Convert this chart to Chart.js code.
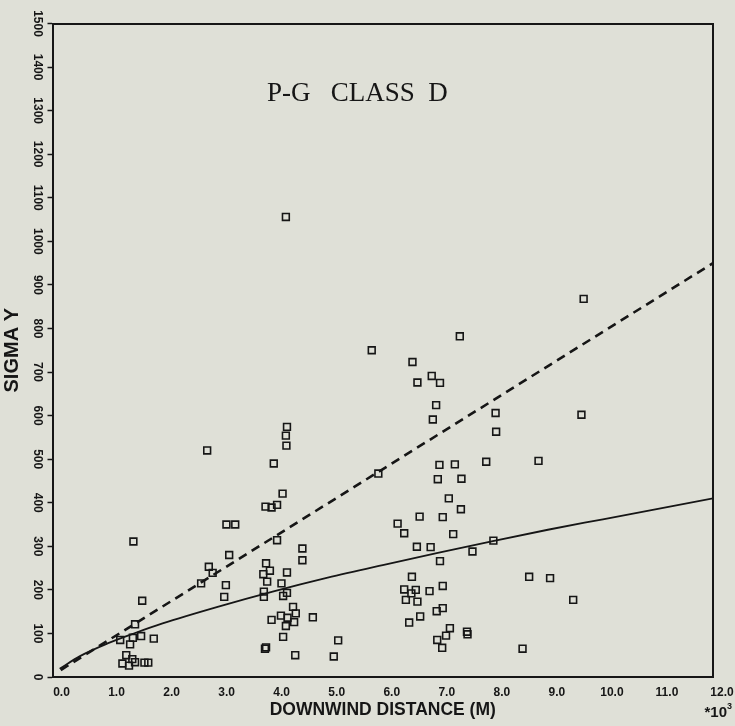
<!DOCTYPE html>
<html><head><meta charset="utf-8">
<script src="https://cdn.jsdelivr.net/npm/chart.js@4/dist/chart.umd.min.js"></script>
<style>
html,body{margin:0;padding:0;background:#dfe0d7;}
#wrap{width:735px;height:726px;position:relative;}
canvas{display:block;}
</style></head><body>
<div id="wrap"><canvas id="c" width="735" height="726"></canvas></div>
<script>
const chartTitle = 'P-G   CLASS  D';
const xAxisTitle = 'DOWNWIND DISTANCE (M)';
const yAxisTitle = 'SIGMA Y';
const xScaleNote = '*10';
const xScaleExp = '3';
const xRange = [0, 12];
const yRange = [0, 1500];

// observed sigma-y points (x in 10^3 m)
const obsX = [4.26,4.24,4.25,2.81,4.02,4.18,3.87,3.98,4.08,3.16,3.32,1.47,4.08,4.54,4.54,3.21,2.84,2.91,2.70,3.15,3.12,3.88,3.83,3.95,4.26,3.90,4.16,3.84,3.84,4.26,4.19,1.63,4.37,4.42,4.15,4.27,3.98,4.39,4.24,4.73,1.50,4.19,5.19,3.86,3.88,4.41,5.11,1.23,1.46,1.61,1.84,1.41,1.34,1.45,1.50,1.27,1.39,1.67,1.74,4.24,
  9.65,7.40,5.80,6.54,6.63,6.89,7.04,6.97,6.91,8.05,9.61,8.06,5.92,7.03,7.31,7.88,8.83,7.00,7.43,7.20,7.42,6.67,7.09,6.27,6.39,7.28,6.62,6.87,8.01,7.63,7.04,6.53,8.66,9.04,6.39,6.60,6.85,7.09,6.42,6.63,6.52,9.46,7.09,6.98,6.68,6.48,7.22,7.53,7.54,7.15,6.99,7.08,8.54];
const obsY = [574,554,531,520,490,421,391,389,395,350,350,311,314,295,268,280,253,239,215,211,184,261,236,244,240,219,215,196,184,193,186,175,161,146,141,136,131,126,117,137,121,92,84,65,68,50,47,85,90,94,88,75,50,41,34,31,26,33,33,1056,
  868,782,750,723,676,691,675,624,591,606,602,563,467,487,488,494,496,454,455,410,385,368,367,352,330,328,299,298,313,288,266,230,230,227,201,200,197,209,177,173,192,177,158,151,139,125,112,104,98,95,85,67,65];

// solid curve
const solidX = [0.13,0.5,1,1.5,2,3,4,5,6,7,8,9,10,11,12];
const solidY = [19,48,77,101,123,161,196,228,257,285,312,338,362,386,410];
// dashed line
const dashedX = [0.15, 12.0];
const dashedY = [16, 950];

const ink = '#161616';
const toPts = (xs, ys) => xs.map((x, i) => ({x, y: ys[i]}));

const annot = {
  id: 'annot',
  afterDraw(chart) {
    const ctx = chart.ctx, a = chart.chartArea;
    ctx.save();
    ctx.fillStyle = ink;
    ctx.font = '27px "Liberation Serif", serif';
    ctx.textAlign = 'left';
    ctx.textBaseline = 'alphabetic';
    ctx.fillText(chartTitle, a.left + 214.5, 101);
    ctx.font = 'bold 15px "Liberation Sans", Arial, sans-serif';
    ctx.textAlign = 'right';
    ctx.fillText(xScaleNote, a.right + 14, 717);
    ctx.font = 'bold 9px "Liberation Sans", Arial, sans-serif';
    ctx.textAlign = 'left';
    ctx.fillText(xScaleExp, a.right + 14, 709);
    ctx.restore();
  }
};

new Chart(document.getElementById('c'), {
  type: 'scatter',
  data: {
    datasets: [
      {
        data: toPts(obsX, obsY),
        pointStyle: 'rect',
        pointRadius: 4.8,
        pointBorderWidth: 1.6,
        pointBorderColor: ink,
        pointBackgroundColor: 'rgba(0,0,0,0)',
        showLine: false
      },
      {
        data: toPts(solidX, solidY),
        showLine: true,
        borderColor: ink,
        borderWidth: 1.8,
        pointRadius: 0,
        cubicInterpolationMode: 'monotone'
      },
      {
        data: toPts(dashedX, dashedY),
        showLine: true,
        borderColor: ink,
        borderWidth: 2.6,
        borderDash: [9, 6],
        pointRadius: 0
      }
    ]
  },
  options: {
    responsive: false,
    animation: false,
    devicePixelRatio: 1,
    layout: {padding: {top: 23.5, right: 22, left: 0, bottom: 0}},
    plugins: {legend: {display: false}, tooltip: {enabled: false}},
    scales: {
      x: {
        type: 'linear', position: 'bottom', min: xRange[0], max: xRange[1],
        afterFit(s) { s.height = 49; },
        ticks: {stepSize: 1, padding: 8, labelOffset: 9, color: ink,
          font: {family: '"Liberation Sans", Arial, sans-serif', weight: 'bold', size: 12},
          callback: v => Number(v).toFixed(1)},
        grid: {drawOnChartArea: false, drawTicks: false},
        border: {display: true, color: ink, width: 2},
        title: {display: true, text: xAxisTitle, color: ink, padding: {top: 0, bottom: 5},
          font: {family: '"Liberation Sans", Arial, sans-serif', weight: 'bold', size: 17.5}}
      },
      y: {
        type: 'linear', position: 'left', min: yRange[0], max: yRange[1],
        afterFit(s) { s.width = 52.5; },
        ticks: {stepSize: 100, padding: -3, minRotation: -90, maxRotation: -90, crossAlign: 'center', color: ink,
          font: {family: '"Liberation Sans", Arial, sans-serif', weight: 'bold', size: 12},
          callback: v => String(v)},
        grid: {drawOnChartArea: false, drawTicks: true, tickLength: 5, tickColor: ink, tickWidth: 1.5},
        border: {display: true, color: ink, width: 2},
        title: {display: true, text: yAxisTitle, color: ink, padding: {top: 0, bottom: 0},
          font: {family: '"Liberation Sans", Arial, sans-serif', weight: 'bold', size: 20}}
      },
      x2: {
        type: 'linear', position: 'top', min: xRange[0], max: xRange[1],
        ticks: {display: false}, grid: {drawOnChartArea: false, drawTicks: false},
        border: {display: true, color: ink, width: 2}
      },
      y2: {
        type: 'linear', position: 'right', min: yRange[0], max: yRange[1],
        ticks: {display: false}, grid: {drawOnChartArea: false, drawTicks: false},
        border: {display: true, color: ink, width: 2}
      }
    }
  },
  plugins: [annot]
});
</script>
</body></html>
